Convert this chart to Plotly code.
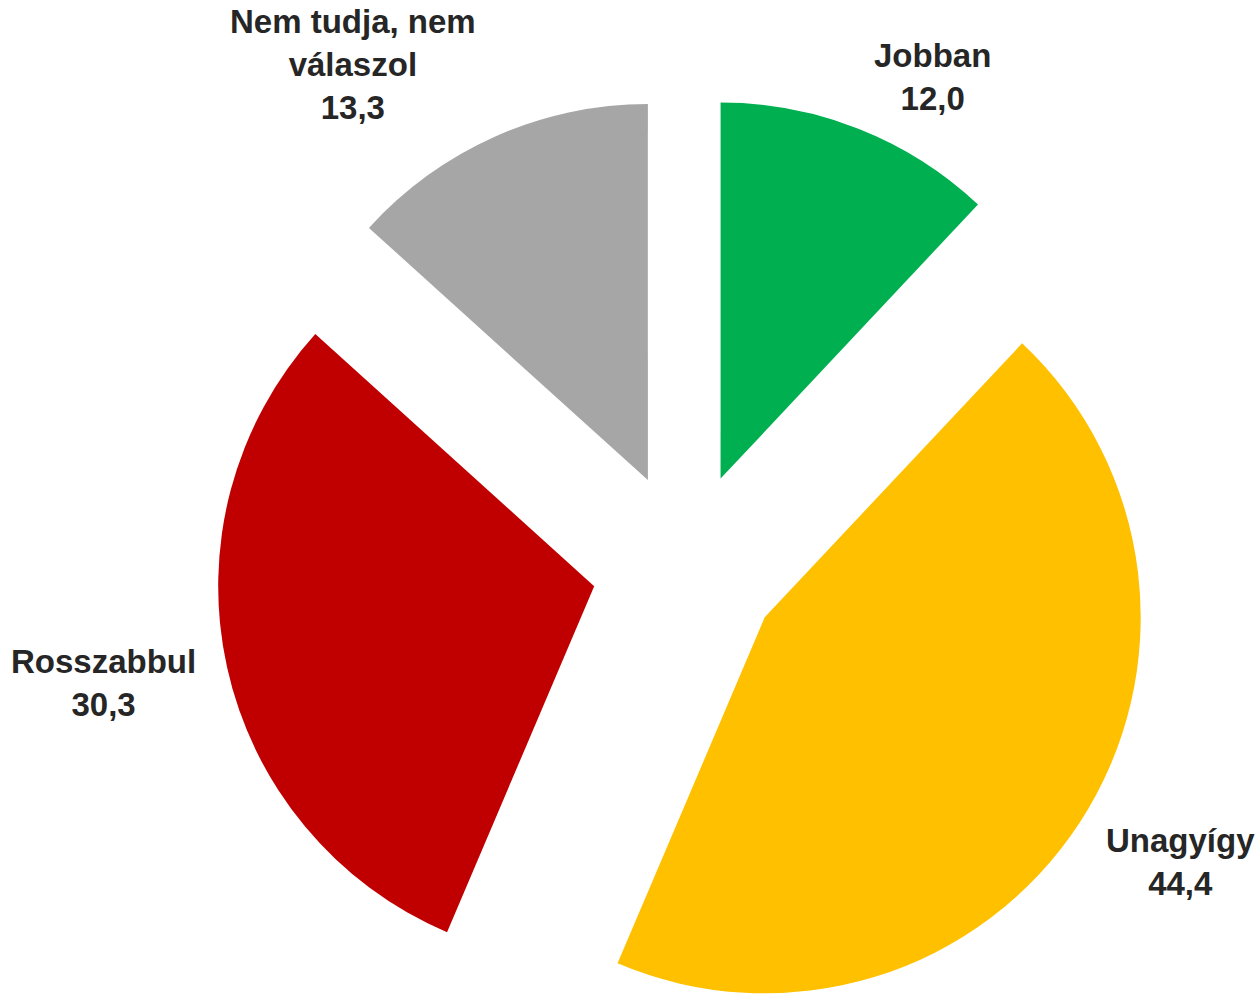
import plotly.graph_objects as go

categories = ["Jobban", "Unagyígy", "Rosszabbul", "Nem tudja, nem<br>válaszol"]
values = [12.0, 44.4, 30.3, 13.3]
colors = ["#00B050", "#FFC000", "#C00000", "#A6A6A6"]

FONT = "Liberation Sans, Arial, sans-serif"
FIG_W, FIG_H = 1258, 1132

# label block centres (pixels from top-left) for each slice label
label_px = [(933, 77), (1180, 862), (104, 683), (353, 65)]

fig = go.Figure(
    go.Pie(
        labels=categories,
        values=values,
        sort=False,
        direction="clockwise",
        rotation=0,
        pull=[0.25] * len(values),
        marker=dict(colors=colors, line=dict(width=0)),
        textposition="none",
        hoverinfo="label+value",
        showlegend=False,
        automargin=False,
        domain=dict(x=[0.1717, 0.9189], y=[0, 1]),
    )
)

for cat, val, (px, py) in zip(categories, values, label_px):
    fig.add_annotation(
        x=px / FIG_W,
        y=1 - py / FIG_H,
        xref="paper",
        yref="paper",
        xanchor="center",
        yanchor="middle",
        align="center",
        showarrow=False,
        text=f"<b>{cat}<br>{val:.1f}</b>".replace(".", ","),
        font=dict(family=FONT, size=33, color="#262626"),
    )

fig.update_layout(
    width=FIG_W,
    height=FIG_H,
    margin=dict(l=0, r=0, t=0, b=0),
    paper_bgcolor="white",
    plot_bgcolor="white",
    separators=", ",
    font=dict(family=FONT, color="#262626"),
)

fig.write_html(
    "out.html",
    config={"displayModeBar": False},
    post_script="document.body.style.margin='0';document.body.style.overflow='hidden';document.documentElement.style.overflow='hidden';",
)
